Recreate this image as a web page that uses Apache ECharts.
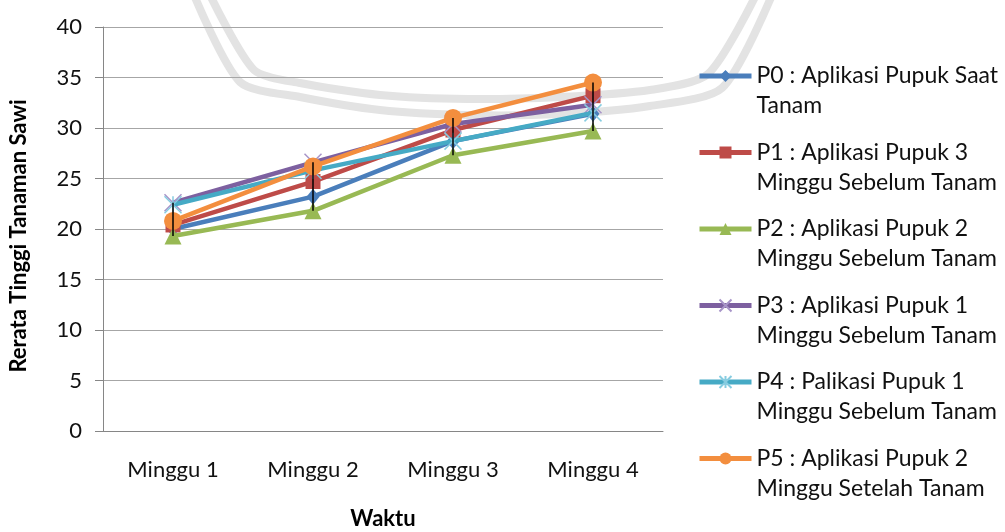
<!DOCTYPE html>
<html>
<head>
<meta charset="utf-8">
<script src="https://cdn.jsdelivr.net/npm/echarts@6/dist/echarts.min.js"></script>
<style>
  html, body { margin: 0; padding: 0; background: #fff; }
  #chart { width: 1005px; height: 532px; }
</style>
</head>
<body>
<div id="chart"></div>
<script>
// Rerata tinggi tanaman sawi per minggu untuk tiap perlakuan
const categories = ['Minggu 1', 'Minggu 2', 'Minggu 3', 'Minggu 4'];
const yTicks = [0, 5, 10, 15, 20, 25, 30, 35, 40];

const p0 = [20.0, 23.2, 28.7, 31.4];
const p1 = [20.4, 24.7, 29.8, 33.2];
const p2 = [19.3, 21.8, 27.3, 29.7];
const p3 = [22.6, 26.6, 30.4, 32.3];
const p4 = [22.4, 25.8, 28.7, 31.5];
const p5 = [20.8, 26.2, 31.0, 34.5];

const seriesNames = [
  'P0 : Aplikasi Pupuk Saat\nTanam',
  'P1 : Aplikasi Pupuk 3\nMinggu Sebelum Tanam',
  'P2 : Aplikasi Pupuk 2\nMinggu Sebelum Tanam',
  'P3 : Aplikasi Pupuk 1\nMinggu Sebelum Tanam',
  'P4 : Palikasi Pupuk 1\nMinggu Sebelum Tanam',
  'P5 : Aplikasi Pupuk 2\nMinggu Setelah Tanam'
];

const FONT = 'Lato';
const allSeries = [p0, p1, p2, p3, p4, p5];

// high-low line per kategori: dari nilai terendah ke tertinggi
const highLow = categories.map((c, i) => {
  const vals = allSeries.map(s => s[i]);
  return [i, Math.min(...vals), Math.max(...vals)];
});

const styles = [
  { color: '#4A7EBB', symbol: 'diamond', size: [13, 16] },
  { color: '#BE4B48', symbol: 'rect', size: 15 },
  { color: '#98B954', symbol: 'triangle', size: 17 },
  { color: '#7D60A0', symbol: 'path://M0,0L1,1M1,0L0,1', size: 17, stroke: '#A794C8' },
  { color: '#46AAC5', symbol: 'path://M0,0L1,1M1,0L0,1M0.5,0L0.5,1', size: 17, stroke: '#86CCE0' },
  { color: '#F38E3E', symbol: 'circle', size: 18 }
];

const lineSeries = allSeries.map((data, k) => {
  const st = styles[k];
  const itemStyle = st.stroke
    ? { color: 'rgba(0,0,0,0)', borderColor: st.stroke, borderWidth: 1.5 }
    : { color: st.color };
  return {
    name: seriesNames[k],
    type: 'line',
    data: data,
    symbol: st.symbol,
    symbolSize: st.size,
    lineStyle: { color: st.color, width: 4.5 },
    itemStyle: itemStyle,
    z: 3 + k
  };
});

const chart = echarts.init(document.getElementById('chart'), null, { renderer: 'canvas', width: 1005, height: 532 });

// lengkung abu-abu di latar belakang
const arcStyle = { stroke: '#e3e3e3', lineWidth: 8, fill: null, lineJoin: 'round' };

chart.setOption({
  animation: false,
  backgroundColor: '#ffffff',
  textStyle: { fontFamily: FONT },
  graphic: [
    {
      type: 'polyline', z: -1, silent: true,
      shape: { points: [[194, -5], [240, 82], [300, 97], [380, 110], [468, 115], [560, 114], [650, 106], [722, 88], [772, -5]], smooth: 0.25 },
      style: arcStyle
    },
    {
      type: 'polyline', z: -1, silent: true,
      shape: { points: [[210, -5], [254, 70], [300, 83], [380, 95], [468, 99], [560, 97], [650, 90], [708, 74], [756, -5]], smooth: 0.25 },
      style: arcStyle
    }
  ],
  grid: { left: 103, right: 342, top: 27, bottom: 101, containLabel: false, outerBoundsMode: 'none' },
  legend: {
    orient: 'vertical',
    left: 692,
    top: 26,
    data: seriesNames,
    itemWidth: 52,
    itemHeight: 15,
    itemGap: -13.5,
    lineStyle: { width: 5 },
    formatter: name => ' \n' + name,
    textStyle: { fontFamily: FONT, fontSize: 23, color: '#111', lineHeight: 30 }
  },
  xAxis: {
    type: 'category',
    data: categories,
    boundaryGap: true,
    name: 'Waktu',
    nameLocation: 'middle',
    nameGap: 77,
    nameTextStyle: { fontFamily: FONT, fontSize: 22, fontWeight: 'bold', color: '#000' },
    axisLine: { lineStyle: { color: '#868686', width: 1 } },
    axisTick: { show: false },
    axisLabel: { fontFamily: FONT, fontSize: 22, color: '#111', margin: 28 }
  },
  yAxis: {
    type: 'value',
    min: yTicks[0],
    max: yTicks[yTicks.length - 1],
    interval: 5,
    name: 'Rerata Tinggi Tanaman Sawi',
    nameLocation: 'middle',
    nameGap: 73,
    nameRotate: 90,
    nameTextStyle: { fontFamily: FONT, fontSize: 22, fontWeight: 'bold', color: '#000', padding: [0, 14, 0, 0] },
    axisLine: { show: true, lineStyle: { color: '#868686', width: 1 } },
    axisTick: { show: true, inside: false, length: 8, lineStyle: { color: '#868686' } },
    axisLabel: { fontFamily: FONT, fontSize: 22, color: '#111', margin: 21 },
    splitLine: { show: true, lineStyle: { color: '#a6a6a6', width: 1 } }
  },
  series: lineSeries.concat([{
    name: 'high-low',
    type: 'custom',
    data: highLow,
    z: 20,
    silent: true,
    encode: { x: 0, y: [1, 2] },
    renderItem: (params, api) => {
      const lo = api.coord([api.value(0), api.value(1)]);
      const hi = api.coord([api.value(0), api.value(2)]);
      return {
        type: 'line',
        shape: { x1: lo[0], y1: lo[1], x2: hi[0], y2: hi[1] },
        style: { stroke: '#000', lineWidth: 1.5 }
      };
    }
  }])
});
</script>
</body>
</html>
